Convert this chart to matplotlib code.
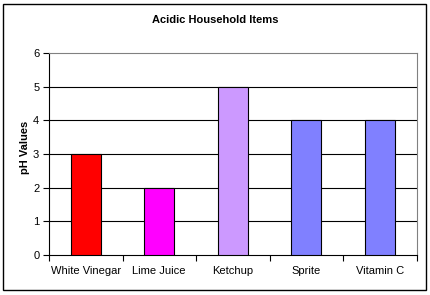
import matplotlib
matplotlib.use("Agg")
import matplotlib.pyplot as plt
from matplotlib.patches import Rectangle

categories = ["White Vinegar", "Lime Juice", "Ketchup", "Sprite", "Vitamin C"]
ph_values = [3, 2, 5, 4, 4]
bar_colors = ["#FF0000", "#FF00FF", "#CC99FF", "#8080FF", "#8080FF"]
yticks = [0, 1, 2, 3, 4, 5, 6]

plt.rcParams['font.family'] = ['Liberation Sans', 'DejaVu Sans']

W, H = 430, 295
fig = plt.figure(figsize=(W/100, H/100), dpi=100)
fig.patches.append(Rectangle((3/W, 1 - 290/H), 423/W, 286/H, transform=fig.transFigure,
                             fill=False, edgecolor='black', linewidth=1.0))

left, right, top, bottom = 49, 416.5, 53, 255
ax = fig.add_axes([left/W, 1 - bottom/H, (right-left)/W, (bottom-top)/H])
x = list(range(len(categories)))
ax.bar(x, ph_values, width=0.41, color=bar_colors, edgecolor='black', linewidth=0.8, zorder=3)
ax.set_xlim(-0.5, len(categories) - 0.5)
ax.set_ylim(0, 6)
ax.set_yticks(yticks)
ax.set_yticklabels([str(v) for v in yticks], fontsize=8)
for v in yticks[1:-1]:
    ax.axhline(v, color='black', linewidth=0.8, zorder=1)
ax.set_xticks(x)
ax.set_xticklabels(categories, fontsize=8)
ax.tick_params(axis='x', length=0, pad=8)
ax.set_xticks([i - 0.5 for i in range(len(categories) + 1)], minor=True)
ax.tick_params(axis='x', which='minor', length=4, width=0.8, direction='out')
ax.tick_params(axis='y', length=4, width=0.8, direction='out', pad=3)
for s in ['top', 'right']:
    ax.spines[s].set_color('#808080')
    ax.spines[s].set_linewidth(0.8)
for s in ['left', 'bottom']:
    ax.spines[s].set_color('black')
    ax.spines[s].set_linewidth(0.8)
ax.set_ylabel("pH Values", fontsize=8, fontweight='bold')
ax.yaxis.set_label_coords(25/W, 0.5, transform=fig.transFigure)
ax.yaxis.label.set_va('center')
fig.text(215/W, 1 - 20/H, "Acidic Household Items", ha='center', va='center',
         fontsize=8, fontweight='bold')
fig.savefig("out.png", dpi=100)
